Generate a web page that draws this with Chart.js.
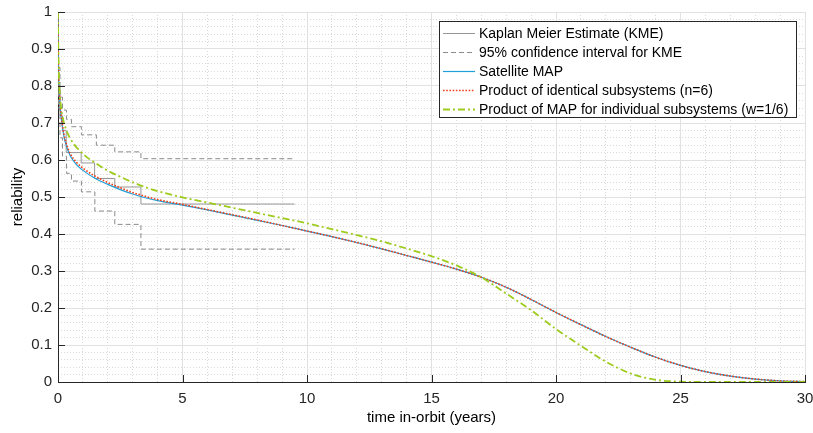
<!DOCTYPE html>
<html><head><meta charset="utf-8">
<script src="https://cdn.jsdelivr.net/npm/chart.js@4"></script>
<style>html,body{margin:0;padding:0;background:#fff;}#wrap{width:813px;height:433px;}</style>
</head><body><div id="wrap"><canvas id="c" width="813" height="433"></canvas></div>
<script>
// ---- data ----
const xTickValues = [0, 5, 10, 15, 20, 25, 30];
const xTickLabels = ['0', '5', '10', '15', '20', '25', '30'];
const yTickValues = [0, 0.1, 0.2, 0.3, 0.4, 0.5, 0.6, 0.7, 0.8, 0.9, 1];
const yTickLabels = ['0', '0.1', '0.2', '0.3', '0.4', '0.5', '0.6', '0.7', '0.8', '0.9', '1'];

const seriesNames = [
  'Kaplan Meier Estimate (KME)',
  '95% confidence interval for KME',
  'Satellite MAP',
  'Product of identical subsystems (n=6)',
  'Product of MAP for individual subsystems (w=1/6)'
];

// Kaplan-Meier estimate (step function)
const kmeYears = [0, 0.02, 0.08, 0.18, 0.33, 0.93, 1.47, 2.28, 3.33, 9.5];
const kmeRel   = [1, 0.8, 0.72, 0.68, 0.62, 0.592, 0.55, 0.527, 0.481, 0.481];

// 95% confidence bounds (step functions)
const ciUpYears = [0, 0.02, 0.08, 0.18, 0.34, 0.54, 0.94, 1.54, 2.28, 3.33, 9.5];
const ciUpRel   = [1, 0.85, 0.77, 0.735, 0.71, 0.69, 0.668, 0.64, 0.622, 0.6035, 0.6035];
const ciLoYears = [0, 0.02, 0.08, 0.18, 0.34, 0.54, 0.94, 1.48, 2.28, 3.33, 9.5];
const ciLoRel   = [1, 0.74, 0.66, 0.61, 0.564, 0.543, 0.514, 0.462, 0.426, 0.359, 0.359];

// Satellite MAP and product of identical subsystems
const mapYears = [0, 0.01, 0.03, 0.07, 0.12, 0.18, 0.25, 0.35, 0.5, 0.75, 1, 1.5, 2, 2.5, 3, 3.5, 4, 5, 6, 7, 8, 9, 10, 11, 12, 13, 14, 15, 16, 17, 18, 19, 20, 21, 22, 23, 24, 25, 26, 27, 28, 29, 30];
const mapRel   = [1, 0.9, 0.82, 0.76, 0.72, 0.688, 0.66, 0.635, 0.61, 0.587, 0.572, 0.55, 0.534, 0.52, 0.508, 0.498, 0.49, 0.478, 0.465, 0.451, 0.437, 0.423, 0.408, 0.393, 0.377, 0.36, 0.342, 0.324, 0.305, 0.283, 0.256, 0.223, 0.188, 0.155, 0.123, 0.094, 0.067, 0.045, 0.028, 0.016, 0.008, 0.003, 0.001];
const prodRel  = [1, 0.9, 0.823, 0.765, 0.726, 0.694, 0.666, 0.641, 0.616, 0.593, 0.578, 0.556, 0.539, 0.525, 0.512, 0.502, 0.493, 0.48, 0.466, 0.452, 0.438, 0.423, 0.408, 0.393, 0.377, 0.36, 0.342, 0.324, 0.305, 0.283, 0.256, 0.223, 0.188, 0.155, 0.123, 0.094, 0.067, 0.045, 0.028, 0.016, 0.008, 0.003, 0.001];

// Product of MAP for individual subsystems
const subYears = [0, 0.01, 0.03, 0.07, 0.12, 0.2, 0.31, 0.5, 0.71, 1, 1.25, 1.5, 1.92, 2.59, 3, 3.53, 4, 5, 6, 7, 8, 9, 10, 11, 12, 13, 14, 15, 16, 17, 18, 19, 20, 21, 22, 23, 24, 25, 26, 27, 28, 29, 30];
const subRel   = [1, 0.92, 0.84, 0.78, 0.745, 0.712, 0.685, 0.657, 0.637, 0.617, 0.603, 0.592, 0.574, 0.552, 0.54, 0.526, 0.516, 0.499, 0.485, 0.471, 0.457, 0.443, 0.429, 0.413, 0.397, 0.38, 0.361, 0.34, 0.315, 0.283, 0.239, 0.194, 0.143, 0.098, 0.055, 0.023, 0.006, 0.001, 0, 0, 0, 0, 0];

// ---- chart ----
const pts = (xs, ys) => xs.map((x, i) => ({x: x, y: ys[i]}));
const FONT = '"Liberation Sans", Arial, Helvetica, sans-serif';
const AX = '#262626';

const styles = [
  {color: '#969696', width: 1, dash: []},
  {color: '#8a8a8a', width: 1, dash: [5, 3]},
  {color: '#1ea0dc', width: 1.2, dash: []},
  {color: '#ef4019', width: 1.6, dash: [1.6, 1.6]},
  {color: '#9dcb1e', width: 1.8, dash: [7, 3, 2, 3]}
];

const datasets = [
  {label: seriesNames[0], data: pts(kmeYears, kmeRel), stepped: 'before', borderColor: styles[0].color, borderWidth: styles[0].width, order: 6},
  {label: seriesNames[1], data: pts(ciUpYears, ciUpRel), stepped: 'before', borderColor: styles[1].color, borderWidth: styles[1].width, borderDash: styles[1].dash, order: 5},
  {label: seriesNames[1] + ' (lower)', data: pts(ciLoYears, ciLoRel), stepped: 'before', borderColor: styles[1].color, borderWidth: styles[1].width, borderDash: styles[1].dash, order: 4},
  {label: seriesNames[2], data: pts(mapYears, mapRel), cubicInterpolationMode: 'monotone', borderColor: styles[2].color, borderWidth: styles[2].width, order: 3},
  {label: seriesNames[3], data: pts(mapYears, prodRel), cubicInterpolationMode: 'monotone', borderColor: styles[3].color, borderWidth: styles[3].width, borderDash: styles[3].dash, order: 2},
  {label: seriesNames[4], data: pts(subYears, subRel), cubicInterpolationMode: 'monotone', borderColor: styles[4].color, borderWidth: styles[4].width, borderDash: styles[4].dash, order: 1}
];
datasets.forEach(d => { d.fill = false; d.pointRadius = 0; d.backgroundColor = 'transparent'; });

const isMult = (v, step) => Math.abs(v / step - Math.round(v / step)) < 1e-6;
const noPad = s => { s.paddingTop = 0; s.paddingBottom = 0; s.paddingLeft = 0; s.paddingRight = 0; };

const inwardTicks = {
  id: 'inwardTicks',
  afterDatasetsDraw(chart) {
    const ctx = chart.ctx, xs = chart.scales.x, ys = chart.scales.y;
    const a = chart.chartArea;
    ctx.save();
    ctx.strokeStyle = AX; ctx.lineWidth = 1; ctx.setLineDash([]);
    ctx.beginPath();
    xTickValues.forEach(v => { const px = Math.round(xs.getPixelForValue(v)) + 0.5; ctx.moveTo(px, a.bottom); ctx.lineTo(px, a.bottom - 7); });
    yTickValues.forEach(v => { const py = Math.round(ys.getPixelForValue(v)) + 0.5; ctx.moveTo(a.left, py); ctx.lineTo(a.left + 7, py); });
    ctx.stroke();
    ctx.restore();
  }
};

const boxLegend = {
  id: 'boxLegend',
  afterDraw(chart) {
    const ctx = chart.ctx;
    const L = 439.5, T = 21.5, W = 357, H = 96;
    ctx.save();
    ctx.fillStyle = '#fff';
    ctx.fillRect(L, T, W, H);
    ctx.strokeStyle = AX; ctx.lineWidth = 1; ctx.setLineDash([]);
    ctx.strokeRect(L, T, W, H);
    ctx.font = '14px ' + FONT;
    ctx.textBaseline = 'middle';
    ctx.textAlign = 'left';
    seriesNames.forEach((name, i) => {
      const y = 33.5 + i * 19;
      const s = styles[i];
      ctx.strokeStyle = s.color; ctx.lineWidth = s.width; ctx.setLineDash(s.dash);
      ctx.beginPath(); ctx.moveTo(443, y); ctx.lineTo(475, y); ctx.stroke();
      ctx.fillStyle = '#000';
      ctx.fillText(name, 479, y + 0.5);
    });
    ctx.restore();
  }
};

new Chart(document.getElementById('c'), {
  type: 'line',
  data: {datasets: datasets},
  options: {
    responsive: false,
    animation: false,
    devicePixelRatio: 1,
    layout: {padding: {top: 12, right: 8, left: 0, bottom: 0}},
    plugins: {legend: {display: false}, tooltip: {enabled: false}},
    scales: {
      xm: {
        type: 'linear', position: 'bottom', min: 0, max: 30,
        ticks: {display: false, stepSize: 1, autoSkip: false},
        grid: {drawTicks: false, lineWidth: 1, color: c => isMult(c.tick.value, 5) ? 'rgba(0,0,0,0)' : '#d9d9d9'},
        border: {display: false, dash: [1, 2]},
        afterFit: s => { s.height = 0; noPad(s); }
      },
      ym: {
        type: 'linear', position: 'left', min: 0, max: 1,
        ticks: {display: false, stepSize: 0.02, autoSkip: false},
        grid: {drawTicks: false, lineWidth: 1, color: c => isMult(c.tick.value, 0.1) ? 'rgba(0,0,0,0)' : '#d9d9d9'},
        border: {display: false, dash: [1, 2]},
        afterFit: s => { s.width = 0; noPad(s); }
      },
      x: {
        type: 'linear', position: 'bottom', min: 0, max: 30,
        afterBuildTicks: s => { s.ticks = xTickValues.map(v => ({value: v})); },
        ticks: {callback: (v, i) => xTickLabels[i], font: {size: 15, family: FONT}, color: AX, padding: 8, maxRotation: 0, autoSkip: false},
        grid: {drawTicks: false, color: '#e1e1e1', lineWidth: 1},
        border: {color: AX, width: 1},
        title: {display: true, text: 'time in-orbit (years)', font: {size: 15, family: FONT}, color: '#000', padding: {top: 0, bottom: 6}},
        afterFit: s => { s.height = 51; noPad(s); }
      },
      y: {
        type: 'linear', position: 'left', min: 0, max: 1,
        afterBuildTicks: s => { s.ticks = yTickValues.map(v => ({value: v})); },
        ticks: {callback: (v, i) => yTickLabels[i], font: {size: 15, family: FONT}, color: AX, padding: 6, autoSkip: false},
        grid: {drawTicks: false, color: '#e1e1e1', lineWidth: 1},
        border: {color: AX, width: 1},
        title: {display: true, text: 'reliability', font: {size: 15, family: FONT}, color: '#000', padding: {top: 9, bottom: 0}},
        afterFit: s => { s.width = 58; noPad(s); }
      }
    }
  },
  plugins: [inwardTicks, boxLegend]
});
</script></body></html>
